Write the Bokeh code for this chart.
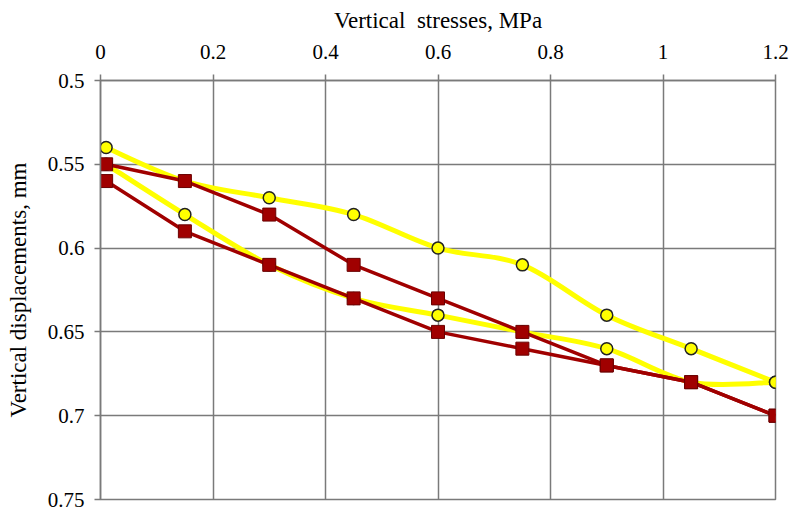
import numpy as np
from bokeh.plotting import figure
from bokeh.models import FixedTicker, Range1d
from bokeh.embed import file_html
from bokeh.resources import INLINE

# Data
stress = [0.01, 0.15, 0.3, 0.45, 0.6, 0.75, 0.9, 1.05, 1.2]
yellow_loading = [0.55, 0.58, 0.61, 0.63, 0.64, 0.65, 0.66, 0.68, 0.68]
yellow_unloading = [0.54, 0.56, 0.57, 0.58, 0.60, 0.61, 0.64, 0.66, 0.68]
red_loading = [0.56, 0.59, 0.61, 0.63, 0.65, 0.66, 0.67, 0.68, 0.70]
red_unloading = [0.55, 0.56, 0.58, 0.61, 0.63, 0.65, 0.67, 0.68, 0.70]

x_ticks = [0, 0.2, 0.4, 0.6, 0.8, 1.0, 1.2]
x_tick_labels = ["0", "0.2", "0.4", "0.6", "0.8", "1", "1.2"]
y_ticks = [0.5, 0.55, 0.6, 0.65, 0.7, 0.75]
y_tick_labels = ["0.5", "0.55", "0.6", "0.65", "0.7", "0.75"]

FONT = "Liberation Serif"
GRID = "#7a7a7a"
YELLOW = "#FFFF00"
RED = "#A00000"

p = figure(width=791, height=512, output_backend="svg", toolbar_location=None,
           x_range=Range1d(0, 1.2), y_range=Range1d(0.75, 0.5),
           x_axis_location="above",
           min_border_left=100, min_border_right=16, min_border_top=80, min_border_bottom=13)
p.outline_line_color = GRID
p.outline_line_width = 1.5
p.background_fill_color = "white"
p.border_fill_color = "white"

p.xaxis.ticker = FixedTicker(ticks=x_ticks)
p.yaxis.ticker = FixedTicker(ticks=y_ticks)
p.xaxis.major_label_overrides = {t: l for t, l in zip(x_ticks, x_tick_labels)}
p.yaxis.major_label_overrides = {t: l for t, l in zip(y_ticks, y_tick_labels)}
p.xgrid.ticker = FixedTicker(ticks=x_ticks)
p.ygrid.ticker = FixedTicker(ticks=y_ticks)
for g in (p.xgrid, p.ygrid):
    g.grid_line_color = GRID
    g.grid_line_width = 1.5

for ax in (p.xaxis, p.yaxis):
    ax.axis_line_color = GRID
    ax.axis_line_width = 1.5
    ax.major_tick_line_color = GRID
    ax.major_tick_line_width = 1.5
    ax.major_tick_out = 6
    ax.major_tick_in = 0
    ax.minor_tick_line_color = None
    ax.major_label_text_font = FONT
    ax.major_label_text_font_size = "21px"
    ax.major_label_text_color = "black"
    ax.axis_label_text_font = FONT
    ax.axis_label_text_font_size = "23px"
    ax.axis_label_text_font_style = "normal"
    ax.axis_label_text_color = "black"

p.xaxis.axis_label = "Vertical\u2002stresses, MPa"
p.yaxis.axis_label = "Vertical displacements, mm"
p.xaxis.major_label_standoff = 16
p.yaxis.major_label_standoff = 10
p.xaxis.axis_label_standoff = 9
p.yaxis.axis_label_standoff = 14


def smooth(xs, ys):
    x = np.asarray(xs, float)
    y = np.asarray(ys, float)
    xp = np.concatenate([[x[0]], x, [x[-1]]])
    yp = np.concatenate([[y[0]], y, [y[-1]]])
    n = len(x)
    x0, y0, x1, y1, cx0, cy0, cx1, cy1 = [], [], [], [], [], [], [], []
    for i in range(n - 1):
        a, b = i, i + 1
        pa, pb = a + 1, b + 1
        x0.append(x[a]); y0.append(y[a]); x1.append(x[b]); y1.append(y[b])
        cx0.append(x[a] + (xp[pb] - xp[pa - 1]) / 6)
        cy0.append(y[a] + (yp[pb] - yp[pa - 1]) / 6)
        cx1.append(x[b] - (xp[pb + 1] - xp[pa]) / 6)
        cy1.append(y[b] - (yp[pb + 1] - yp[pa]) / 6)
    return dict(x0=x0, y0=y0, x1=x1, y1=y1, cx0=cx0, cy0=cy0, cx1=cx1, cy1=cy1)


for ys in (yellow_loading, yellow_unloading):
    d = smooth(stress, ys)
    p.bezier(x0=d["x0"], y0=d["y0"], x1=d["x1"], y1=d["y1"],
             cx0=d["cx0"], cy0=d["cy0"], cx1=d["cx1"], cy1=d["cy1"],
             line_color=YELLOW, line_width=5)
for ys in (yellow_loading, yellow_unloading):
    p.scatter(stress, ys, marker="circle", size=12, fill_color=YELLOW,
              line_color="#222222", line_width=1.5)

for ys in (red_loading, red_unloading):
    p.line(stress, ys, line_color=RED, line_width=3.5)
for ys in (red_loading, red_unloading):
    p.scatter(stress, ys, marker="square", size=13, fill_color=RED,
              line_color="#6a0000", line_width=1)

open("out.html", "w").write(file_html(p, INLINE))
